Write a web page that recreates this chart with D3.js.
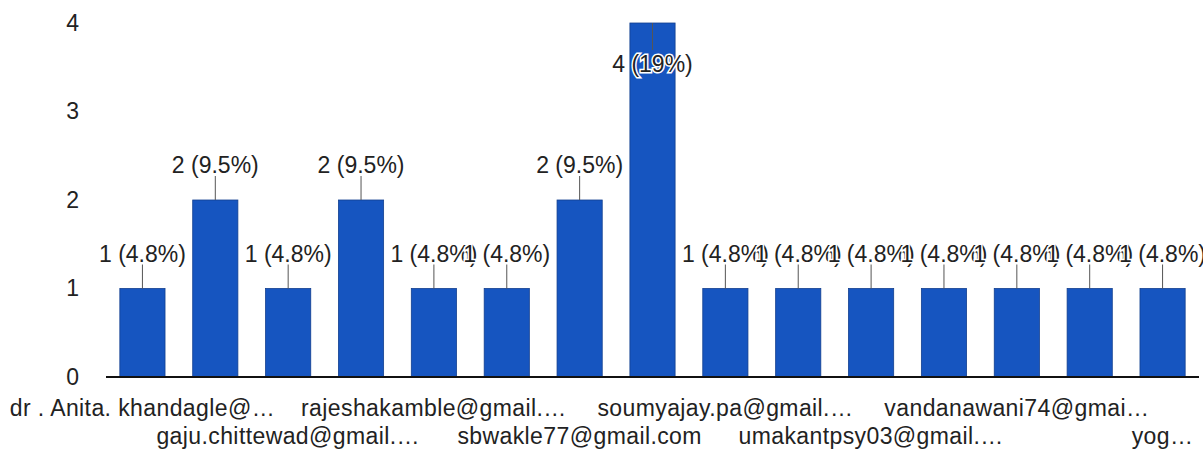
<!DOCTYPE html>
<html>
<head>
<meta charset="utf-8">
<script src="https://cdn.jsdelivr.net/npm/d3@7"></script>
<style>
  body { margin: 0; background: #fff; }
  text { font-family: "Liberation Sans", Arial, sans-serif; }
</style>
</head>
<body>
<div id="chart"></div>
<script>
// responses per person (labels that are hidden in the chart are left empty)
var categories = ["dr . Anita. khandagle@…", "", "gaju.chittewad@gmail.…", "",
  "rajeshakamble@gmail.…", "", "sbwakle77@gmail.com", "",
  "soumyajay.pa@gmail.…", "", "umakantpsy03@gmail.…", "",
  "vandanawani74@gmai…", "", "yog…"];
var counts = [1, 2, 1, 2, 1, 1, 2, 4, 1, 1, 1, 1, 1, 1, 1];
var percents = ["4.8%", "9.5%", "4.8%", "9.5%", "4.8%", "4.8%", "9.5%", "19%",
  "4.8%", "4.8%", "4.8%", "4.8%", "4.8%", "4.8%", "4.8%"];
var yTicks = [0, 1, 2, 3, 4];

var width = 1203, height = 450;

var svg = d3.select("#chart").append("svg")
  .attr("width", width)
  .attr("height", height);

var x = d3.scaleBand()
  .domain(d3.range(counts.length))
  .range([106, 1199])
  .paddingInner(0.38)
  .paddingOuter(0.19);

var y = d3.scaleLinear().domain([0, 4]).range([377, 23]);

// y axis labels
var yAxis = d3.axisLeft(y).tickValues(yTicks).tickSize(0).tickPadding(0).tickFormat(d3.format("d"));
var gy = svg.append("g")
  .attr("transform", "translate(79,0)")
  .call(yAxis);
gy.select(".domain").remove();
gy.selectAll("text")
  .attr("font-size", 23)
  .attr("font-family", "Liberation Sans, Arial, sans-serif")
  .attr("fill", "#222");

// bars
svg.selectAll("rect.bar")
  .data(counts)
  .enter().append("rect")
    .attr("class", "bar")
    .attr("x", function(d, i) { return x(i); })
    .attr("y", function(d) { return y(d); })
    .attr("width", x.bandwidth())
    .attr("height", function(d) { return y(0) - y(d); })
    .attr("fill", "#1655c0")
    .attr("stroke", "#123f8f")
    .attr("stroke-width", 0.8);

// baseline
svg.append("line")
  .attr("x1", 106).attr("x2", 1199)
  .attr("y1", y(0)).attr("y2", y(0))
  .attr("stroke", "#111")
  .attr("stroke-width", 2);

// x axis labels, every other one, in two rows
var xAxis = d3.axisBottom(x).tickSize(0).tickPadding(0)
  .tickValues(d3.range(0, counts.length, 2))
  .tickFormat(function(i) { return categories[i]; });
var gx = svg.append("g")
  .attr("transform", "translate(0," + y(0) + ")")
  .call(xAxis);
gx.select(".domain").remove();
gx.selectAll("text")
  .attr("font-size", 23)
  .attr("font-family", "Liberation Sans, Arial, sans-serif")
  .attr("letter-spacing", 0.4)
  .attr("fill", "#222")
  .attr("dy", null)
  .attr("y", function(i) { return (i / 2) % 2 === 0 ? 39 : 67; });

// value annotations with leader lines
var ann = svg.selectAll("g.ann")
  .data(counts)
  .enter().append("g")
    .attr("class", "ann")
    .attr("transform", function(d, i) { return "translate(" + (x(i) + x.bandwidth() / 2) + "," + y(d) + ")"; });

ann.append("line")
  .attr("x1", 0).attr("x2", 0)
  .attr("y1", function(d) { return d === 4 ? 0 : -24; })
  .attr("y2", function(d) { return d === 4 ? 27 : 0; })
  .attr("stroke", "#555")
  .attr("stroke-width", 1);

ann.append("text")
  .attr("text-anchor", "middle")
  .attr("y", function(d) { return d === 4 ? 49 : -27; })
  .attr("font-size", 23)
  .attr("fill", "#222")
  .attr("stroke", "#fff")
  .attr("stroke-width", 3)
  .attr("paint-order", "stroke")
  .text(function(d, i) { return d + " (" + percents[i] + ")"; });
</script>
</body>
</html>
